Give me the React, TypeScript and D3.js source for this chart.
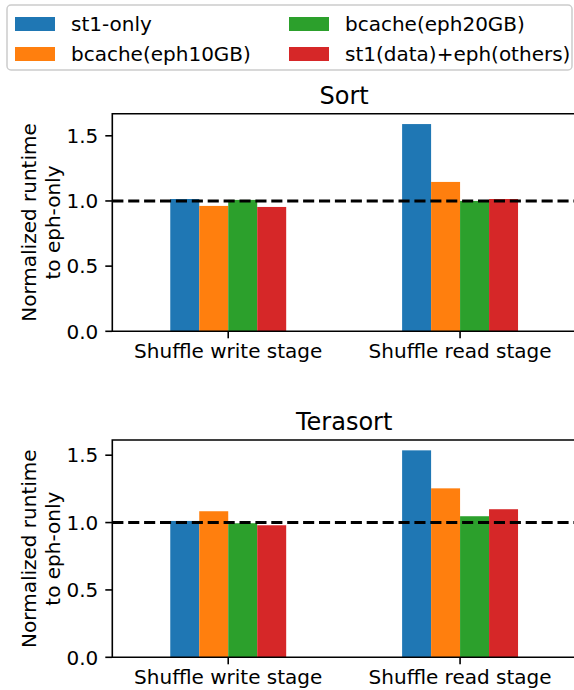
import * as d3 from "d3"
import { useEffect } from "react"

const stages = ["Shuffle write stage", "Shuffle read stage"]
const seriesNames = ["st1-only", "bcache(eph10GB)", "bcache(eph20GB)", "st1(data)+eph(others)"]
const colors = ["#1f77b4", "#ff7f0e", "#2ca02c", "#d62728"]

// per series, values for [write, read]
const sortValues = [
  [1.015, 1.59],
  [0.962, 1.146],
  [1.008, 1.0],
  [0.954, 1.015],
]
const terasortValues = [
  [1.012, 1.536],
  [1.084, 1.254],
  [0.995, 1.047],
  [0.98, 1.099],
]
const yTicks = [0, 0.5, 1.0, 1.5]

const W = 574
const H = 690
const axLeft = 112.3
const axRight = 576
const font = "DejaVu Sans, sans-serif"
const barWidth = 0.125

type PanelProps = { title: string; values: number[][]; top: number; bottom: number }

function Panel({ title, values, top, bottom }: PanelProps) {
  const x = d3.scaleLinear().domain([-0.5, 1.5]).range([axLeft, axRight])
  const maxV = d3.max(values.flat()) ?? 1
  const y = d3.scaleLinear().domain([0, maxV * 1.05]).range([bottom, top])
  const cy = (top + bottom) / 2

  return (
    <g>
      {values.map((vals, si) =>
        vals.map((v, ci) => {
          const x0 = x(ci - 2 * barWidth + si * barWidth)
          const x1 = x(ci - 2 * barWidth + (si + 1) * barWidth)
          return (
            <rect
              key={`${si}-${ci}`}
              x={x0}
              y={y(v)}
              width={x1 - x0}
              height={y(0) - y(v)}
              fill={colors[si]}
            />
          )
        })
      )}
      <line
        x1={axLeft}
        x2={axRight}
        y1={y(1)}
        y2={y(1)}
        stroke="#000"
        strokeWidth={3}
        strokeDasharray="11.1,4.8"
      />
      {/* spines */}
      <path
        d={`M${axRight},${top}H${axLeft}V${bottom}H${axRight}`}
        fill="none"
        stroke="#000"
        strokeWidth={1.6}
      />
      {yTicks.map((t) => (
        <g key={t}>
          <line x1={axLeft - 7} x2={axLeft} y1={y(t)} y2={y(t)} stroke="#000" strokeWidth={1.6} />
          <text
            x={axLeft - 14}
            y={y(t)}
            dy="0.36em"
            textAnchor="end"
            fontSize={20}
            fontFamily={font}
          >
            {d3.format(".1f")(t)}
          </text>
        </g>
      ))}
      {stages.map((s, i) => (
        <g key={s}>
          <line x1={x(i)} x2={x(i)} y1={bottom} y2={bottom + 7} stroke="#000" strokeWidth={1.6} />
          <text x={x(i)} y={bottom + 27} textAnchor="middle" fontSize={20} fontFamily={font}>
            {s}
          </text>
        </g>
      ))}
      <text x={(axLeft + axRight) / 2} y={top - 10} textAnchor="middle" fontSize={24} fontFamily={font}>
        {title}
      </text>
      <text transform={`translate(36,${cy}) rotate(-90)`} textAnchor="middle" fontSize={20} fontFamily={font}>
        Normalized runtime
      </text>
      <text transform={`translate(60,${cy}) rotate(-90)`} textAnchor="middle" fontSize={20} fontFamily={font}>
        to eph-only
      </text>
    </g>
  )
}

function Legend() {
  const colX = [15, 289]
  const rowY = [24, 54]
  // column-major like matplotlib ncol=2
  return (
    <g>
      <rect x={7} y={5} width={565} height={65} rx={4} fill="#fff" stroke="#ccc" strokeWidth={1.5} />
      {seriesNames.map((name, i) => {
        const col = Math.floor(i / 2)
        const row = i % 2
        return (
          <g key={name}>
            <rect x={colX[col]} y={rowY[row] - 7} width={40} height={14} fill={colors[i]} />
            <text x={colX[col] + 56} y={rowY[row]} dy="0.36em" fontSize={20} fontFamily={font}>
              {name}
            </text>
          </g>
        )
      })}
    </g>
  )
}

export default function App() {
  useEffect(() => {
    document.body.style.margin = "0"
  }, [])
  return (
    <svg width={W} height={H} style={{ display: "block", background: "#fff" }}>
      <Legend />
      <Panel title="Sort" values={sortValues} top={113.7} bottom={331.3} />
      <Panel title="Terasort" values={terasortValues} top={440} bottom={657.3} />
    </svg>
  )
}
